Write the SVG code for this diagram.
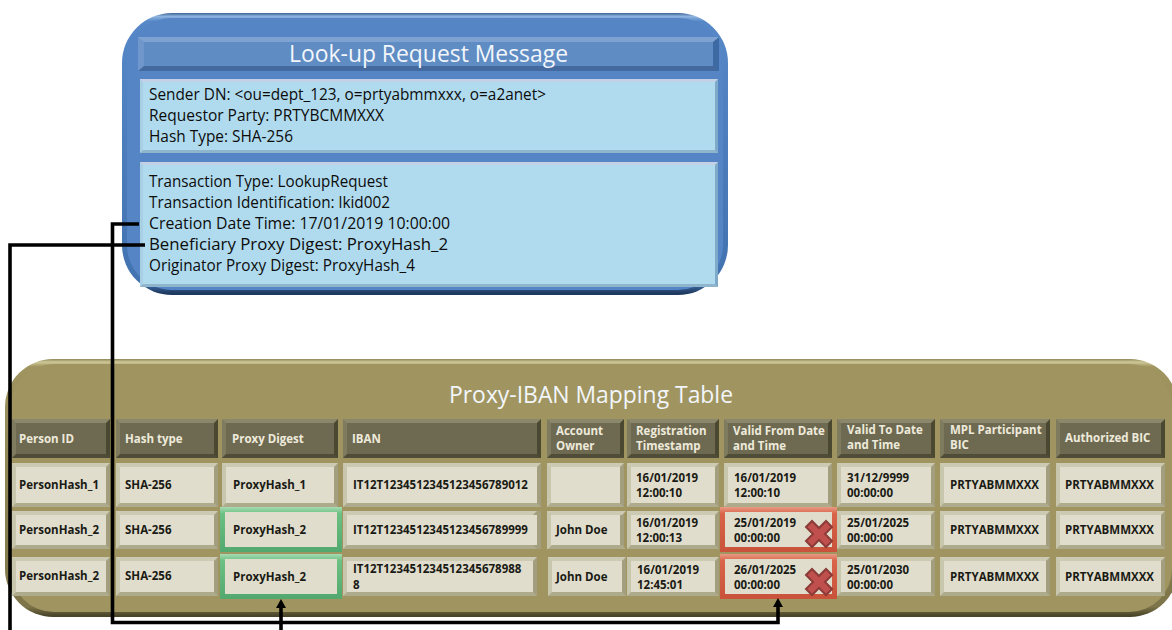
<svg xmlns="http://www.w3.org/2000/svg" width="1172" height="630" viewBox="0 0 1172 630">
<style>
text{font-family:"Open Sans","Noto Sans","Liberation Sans",sans-serif}
.title{font-size:24px;fill:#f2f6fb}
.msg{font-size:15.5px;fill:#0c0c0c}
.th{font-size:11.5px;font-weight:700;fill:#eeeadb}
.td{font-size:11.5px;font-weight:700;fill:#1a1a14}
.hb{fill:url(#hside)}.hi{fill:#6e6a52}.ht{fill:#8b876b}.hbo{fill:#4f4c38}
.cb{fill:url(#cside)}.ci{fill:#e0ddcc}.ct{fill:#cdcab3}.cbo{fill:#aeaa8c}
.gb{fill:url(#gbev)}.rb{fill:url(#rbev)}
.pb{fill:url(#pside)}.pi{fill:#b0dbee}.pt{fill:#c3d0e6}.pbo{fill:#8fb5cd}
.wire{fill:none;stroke:#000;stroke-width:3.6}
</style>
<defs>
<linearGradient id="hside"><stop offset=".5" stop-color="#7f7b5f"/><stop offset=".5" stop-color="#4b4832"/></linearGradient>
<linearGradient id="cside"><stop offset=".5" stop-color="#c9c6ae"/><stop offset=".5" stop-color="#a29e7e"/></linearGradient>
<linearGradient id="pside"><stop offset=".5" stop-color="#a9cfe4"/><stop offset=".5" stop-color="#7fa9c8"/></linearGradient>
<linearGradient id="gbev" x1="0" y1="0" x2="0" y2="1"><stop offset="0" stop-color="#a6dbb2"/><stop offset=".15" stop-color="#6cc083"/><stop offset="1" stop-color="#52a86e"/></linearGradient>
<linearGradient id="rbev" x1="0" y1="0" x2="0" y2="1"><stop offset="0" stop-color="#e89a84"/><stop offset=".15" stop-color="#d9644a"/><stop offset="1" stop-color="#c9523a"/></linearGradient>
<linearGradient id="blue" x1="0" y1="0" x2="0" y2="1"><stop offset="0" stop-color="#3c6293"/><stop offset=".012" stop-color="#8fb4e0"/><stop offset=".03" stop-color="#5687c6"/><stop offset=".96" stop-color="#4272b0"/><stop offset=".993" stop-color="#1f3a60"/></linearGradient>
<linearGradient id="olive" x1="0" y1="0" x2="0" y2="1"><stop offset="0" stop-color="#8f8757"/><stop offset=".012" stop-color="#cfc898"/><stop offset=".03" stop-color="#a09560"/><stop offset=".96" stop-color="#7d7549"/><stop offset=".995" stop-color="#4a4529"/></linearGradient>
<linearGradient id="bar"><stop offset=".5" stop-color="#7097cc"/><stop offset=".5" stop-color="#3d6aa2"/></linearGradient>
<marker id="arr" viewBox="0 0 9 10" refX="0" refY="5" markerUnits="userSpaceOnUse" markerWidth="9" markerHeight="10" orient="auto"><path d="M0 0L9 5L0 10z" fill="#000"/></marker>
<path id="x" d="M-13-7L-7-13L0-6L7-13L13-7L6 0L13 7L7 13L0 6L-7 13L-13 7L-6 0z" fill="#c0504d" stroke="#8c3b39" stroke-width="2"/>
<path id="tops" d="M12 0h98l-4 4h-90zM116 0h102l-4 4h-94zM222 0h116l-4 4h-108zM343 0h198l-4 4h-190zM547 0h77l-4 4h-69zM627 0h92l-4 4h-84zM724 0h108l-4 4h-100zM837 0h98l-4 4h-90zM940 0h110l-4 4h-102zM1056 0h109l-4 4h-101z"/>
<path id="bots" d="M12 0h98l-4-4h-90zM116 0h102l-4-4h-94zM222 0h116l-4-4h-108zM343 0h198l-4-4h-190zM547 0h77l-4-4h-69zM627 0h92l-4-4h-84zM724 0h108l-4-4h-100zM837 0h98l-4-4h-90zM940 0h110l-4-4h-102zM1056 0h109l-4-4h-101z"/>
<path id="tops3" d="M12 0h98l-4 4h-90zM116 0h102l-4 4h-94zM343 0h194l-4 4h-186zM548 0h78l-4 4h-70zM627 0h92l-4 4h-84zM837 0h98l-4 4h-90zM940 0h110l-4 4h-102zM1056 0h109l-4 4h-101z"/>
<path id="bots3" d="M12 0h98l-4-4h-90zM116 0h102l-4-4h-94zM343 0h194l-4-4h-186zM548 0h78l-4-4h-70zM627 0h92l-4-4h-84zM837 0h98l-4-4h-90zM940 0h110l-4-4h-102zM1056 0h109l-4-4h-101z"/>
</defs>

<g id="lookup-message">
<rect x="122" y="13" width="606" height="282" rx="50" fill="url(#blue)"/>
<rect x="127" y="18" width="596" height="272" rx="45" fill="#5585c5"/>
<rect x="138" y="37" width="581" height="34" fill="url(#bar)"/>
<path d="M138 37h581l-6 5h-569z" fill="#7ea3d2"/><path d="M138 71h581l-6-5h-569z" fill="#44699f"/>
<rect x="144" y="42" width="569" height="24" fill="#5f8cc3"/>
<text class="title" x="289" y="62" textLength="279" lengthAdjust="spacingAndGlyphs">Look-up Request Message</text>
</g>
<g id="sender-panel">
<rect class="pb" x="140" y="79" width="578" height="74"/>
<path class="pt" d="M140 79h578l-3 3h-572z"/><path class="pbo" d="M140 153h578l-3-3h-572z"/>
<rect class="pi" x="143" y="82" width="572" height="68"/>
<text class="msg" x="149" y="100" textLength="397" lengthAdjust="spacingAndGlyphs">Sender DN: &lt;ou=dept_123, o=prtyabmmxxx, o=a2anet&gt;</text>
<text class="msg" x="149" y="121" textLength="235" lengthAdjust="spacingAndGlyphs">Requestor Party: PRTYBCMMXXX</text>
<text class="msg" x="149" y="142" textLength="144" lengthAdjust="spacingAndGlyphs">Hash Type: SHA-256</text>
</g>
<g id="transaction-panel">
<rect class="pb" x="140" y="162" width="578" height="125"/>
<path class="pt" d="M140 162h578l-3 3h-572z"/><path class="pbo" d="M140 287h578l-3-3h-572z"/>
<rect class="pi" x="143" y="165" width="572" height="119"/>
<text class="msg" x="149" y="187" textLength="239" lengthAdjust="spacingAndGlyphs">Transaction Type: LookupRequest</text>
<text class="msg" x="149" y="208" textLength="241" lengthAdjust="spacingAndGlyphs">Transaction Identification: lkid002</text>
<text class="msg" x="149" y="229" textLength="301" lengthAdjust="spacingAndGlyphs">Creation Date Time: 17/01/2019 10:00:00</text>
<text class="msg" x="149" y="250" textLength="299" lengthAdjust="spacingAndGlyphs">Beneficiary Proxy Digest: ProxyHash_2</text>
<text class="msg" x="149" y="271" textLength="266" lengthAdjust="spacingAndGlyphs">Originator Proxy Digest: ProxyHash_4</text>
</g>

<g id="mapping-table">
<rect x="5" y="359" width="1173" height="258" rx="48" fill="url(#olive)"/>
<rect x="11" y="364" width="1161" height="248" rx="43" fill="#a09560"/>
<text class="title" x="449" y="403" textLength="284" lengthAdjust="spacingAndGlyphs">Proxy-IBAN Mapping Table</text>
</g>
<g id="table-header">
<rect class="hb" x="12" y="419" width="98" height="39"/><rect class="hb" x="116" y="419" width="102" height="39"/><rect class="hb" x="222" y="419" width="116" height="39"/><rect class="hb" x="343" y="419" width="198" height="39"/><rect class="hb" x="547" y="419" width="77" height="39"/><rect class="hb" x="627" y="419" width="92" height="39"/><rect class="hb" x="724" y="419" width="108" height="39"/><rect class="hb" x="837" y="419" width="98" height="39"/><rect class="hb" x="940" y="419" width="110" height="39"/><rect class="hb" x="1056" y="419" width="109" height="39"/>
<use href="#tops" y="419" class="ht"/><use href="#bots" y="458" class="hbo"/>
<rect class="hi" x="16" y="423" width="90" height="31"/><rect class="hi" x="120" y="423" width="94" height="31"/><rect class="hi" x="226" y="423" width="108" height="31"/><rect class="hi" x="347" y="423" width="190" height="31"/><rect class="hi" x="551" y="423" width="69" height="31"/><rect class="hi" x="631" y="423" width="84" height="31"/><rect class="hi" x="728" y="423" width="100" height="31"/><rect class="hi" x="841" y="423" width="90" height="31"/><rect class="hi" x="944" y="423" width="102" height="31"/><rect class="hi" x="1060" y="423" width="101" height="31"/>
<text class="th" x="19" y="443">Person ID</text>
<text class="th" x="125" y="443">Hash type</text>
<text class="th" x="232" y="443">Proxy Digest</text>
<text class="th" x="352" y="443">IBAN</text>
<text class="th" x="556" y="435">Account</text><text class="th" x="556" y="450">Owner</text>
<text class="th" x="636" y="435">Registration</text><text class="th" x="636" y="450">Timestamp</text>
<text class="th" x="733" y="435">Valid From Date</text><text class="th" x="733" y="450">and Time</text>
<text class="th" x="847" y="434">Valid To Date</text><text class="th" x="847" y="449">and Time</text>
<text class="th" x="950" y="434">MPL Participant</text><text class="th" x="950" y="449">BIC</text>
<text class="th" x="1065" y="442">Authorized BIC</text>
</g>
<g id="row-1">
<rect class="cb" x="12" y="463" width="98" height="44"/><rect class="cb" x="116" y="463" width="102" height="44"/><rect class="cb" x="222" y="463" width="116" height="44"/><rect class="cb" x="343" y="463" width="198" height="44"/><rect class="cb" x="547" y="463" width="77" height="44"/><rect class="cb" x="627" y="463" width="92" height="44"/><rect class="cb" x="724" y="463" width="108" height="44"/><rect class="cb" x="837" y="463" width="98" height="44"/><rect class="cb" x="940" y="463" width="110" height="44"/><rect class="cb" x="1056" y="463" width="109" height="44"/>
<use href="#tops" y="463" class="ct"/><use href="#bots" y="507" class="cbo"/>
<rect class="ci" x="16" y="467" width="90" height="36"/><rect class="ci" x="120" y="467" width="94" height="36"/><rect class="ci" x="226" y="467" width="108" height="36"/><rect class="ci" x="347" y="467" width="190" height="36"/><rect class="ci" x="551" y="467" width="69" height="36"/><rect class="ci" x="631" y="467" width="84" height="36"/><rect class="ci" x="728" y="467" width="100" height="36"/><rect class="ci" x="841" y="467" width="90" height="36"/><rect class="ci" x="944" y="467" width="102" height="36"/><rect class="ci" x="1060" y="467" width="101" height="36"/>
<text class="td" x="19" y="489">PersonHash_1</text>
<text class="td" x="125" y="489">SHA-256</text>
<text class="td" x="233" y="489">ProxyHash_1</text>
<text class="td" x="353" y="489">IT12T1234512345123456789012</text>
<text class="td" x="636" y="482">16/01/2019</text><text class="td" x="636" y="497">12:00:10</text>
<text class="td" x="734" y="482">16/01/2019</text><text class="td" x="734" y="497">12:00:10</text>
<text class="td" x="847" y="482">31/12/9999</text><text class="td" x="847" y="497">00:00:00</text>
<text class="td" x="950" y="489">PRTYABMMXXX</text>
<text class="td" x="1065" y="489">PRTYABMMXXX</text>
</g>
<g id="row-2">
<rect class="cb" x="12" y="511" width="98" height="38"/><rect class="cb" x="116" y="511" width="102" height="38"/><rect class="cb" x="343" y="511" width="198" height="38"/><rect class="cb" x="547" y="511" width="77" height="38"/><rect class="cb" x="627" y="511" width="92" height="38"/><rect class="cb" x="837" y="511" width="98" height="38"/><rect class="cb" x="940" y="511" width="110" height="38"/><rect class="cb" x="1056" y="511" width="109" height="38"/>
<use href="#tops3" y="511" class="ct"/><use href="#bots3" y="549" class="cbo"/>
<rect class="ci" x="16" y="515" width="90" height="30"/><rect class="ci" x="120" y="515" width="94" height="30"/><rect class="ci" x="347" y="515" width="190" height="30"/><rect class="ci" x="551" y="515" width="69" height="30"/><rect class="ci" x="631" y="515" width="84" height="30"/><rect class="ci" x="841" y="515" width="90" height="30"/><rect class="ci" x="944" y="515" width="102" height="30"/><rect class="ci" x="1060" y="515" width="101" height="30"/>
<rect class="gb" x="220" y="507" width="122" height="45"/><rect class="ci" x="225" y="512" width="112" height="35"/>
<rect class="rb" x="720" y="507" width="117" height="45"/><rect class="ci" x="725" y="512" width="107" height="35"/>
<text class="td" x="19" y="534">PersonHash_2</text>
<text class="td" x="125" y="534">SHA-256</text>
<text class="td" x="233" y="534">ProxyHash_2</text>
<text class="td" x="353" y="534">IT12T1234512345123456789999</text>
<text class="td" x="556" y="534">John Doe</text>
<text class="td" x="636" y="527">16/01/2019</text><text class="td" x="636" y="542">12:00:13</text>
<text class="td" x="734" y="527">25/01/2019</text><text class="td" x="734" y="542">00:00:00</text>
<use href="#x" x="819" y="534"/>
<text class="td" x="847" y="527">25/01/2025</text><text class="td" x="847" y="542">00:00:00</text>
<text class="td" x="950" y="534">PRTYABMMXXX</text>
<text class="td" x="1065" y="534">PRTYABMMXXX</text>
</g>
<g id="row-3">
<rect class="cb" x="12" y="557" width="98" height="39"/><rect class="cb" x="116" y="557" width="102" height="39"/><rect class="cb" x="343" y="557" width="194" height="39"/><rect class="cb" x="548" y="557" width="78" height="39"/><rect class="cb" x="627" y="557" width="92" height="39"/><rect class="cb" x="837" y="557" width="98" height="39"/><rect class="cb" x="940" y="557" width="110" height="39"/><rect class="cb" x="1056" y="557" width="109" height="39"/>
<use href="#tops3" y="557" class="ct"/><use href="#bots3" y="596" class="cbo"/>
<rect class="ci" x="16" y="561" width="90" height="31"/><rect class="ci" x="120" y="561" width="94" height="31"/><rect class="ci" x="347" y="561" width="186" height="31"/><rect class="ci" x="552" y="561" width="70" height="31"/><rect class="ci" x="631" y="561" width="84" height="31"/><rect class="ci" x="841" y="561" width="90" height="31"/><rect class="ci" x="944" y="561" width="102" height="31"/><rect class="ci" x="1060" y="561" width="101" height="31"/>
<rect class="gb" x="220" y="554" width="122" height="45"/><rect class="ci" x="225" y="559" width="112" height="35"/>
<rect class="rb" x="720" y="554" width="117" height="45"/><rect class="ci" x="725" y="559" width="107" height="35"/>
<text class="td" x="19" y="580">PersonHash_2</text>
<text class="td" x="125" y="580">SHA-256</text>
<text class="td" x="233" y="581">ProxyHash_2</text>
<text class="td" x="353" y="573">IT12T123451234512345678988</text><text class="td" x="353" y="589">8</text>
<text class="td" x="556" y="581">John Doe</text>
<text class="td" x="637" y="574">16/01/2019</text><text class="td" x="637" y="589">12:45:01</text>
<text class="td" x="734" y="574">26/01/2025</text><text class="td" x="734" y="589">00:00:00</text>
<use href="#x" x="819" y="582"/>
<text class="td" x="847" y="574">25/01/2030</text><text class="td" x="847" y="589">00:00:00</text>
<text class="td" x="950" y="581">PRTYABMMXXX</text>
<text class="td" x="1065" y="581">PRTYABMMXXX</text>
</g>
<g id="connectors">
<path class="wire" d="M139 224H112.500V622.500H778V607" marker-end="url(#arr)"/>
<path class="wire" d="M145 245H10V630"/>
<path class="wire" d="M281 630V608" marker-end="url(#arr)"/>
</g>
</svg>
